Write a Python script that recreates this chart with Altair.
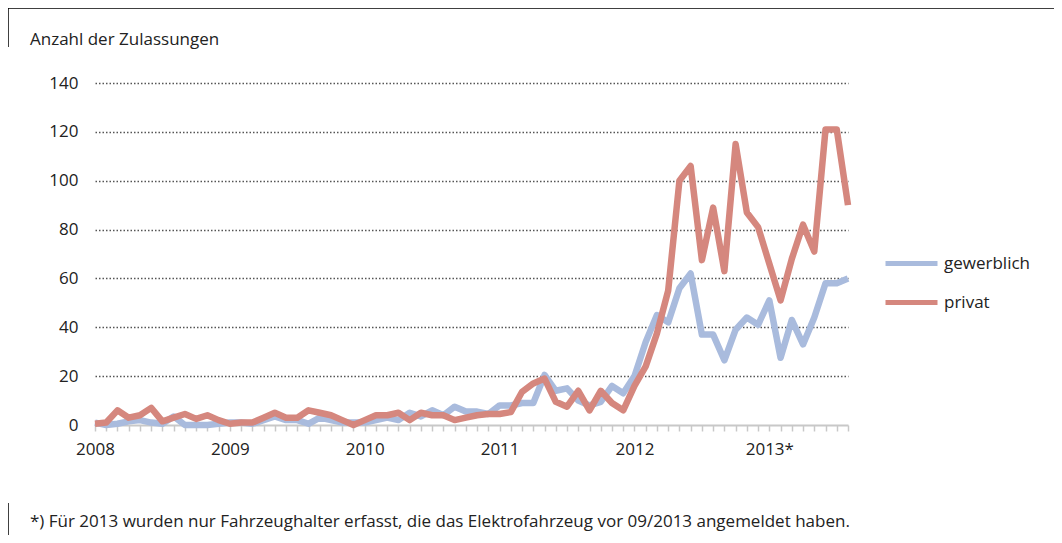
import altair as alt
import pandas as pd

# ---- data -------------------------------------------------------------
monate = [f"{y}-{m:02d}" for y in range(2008, 2014) for m in range(1, 13)][:68]

gewerblich = [1, 0, 0.5, 1.5, 2, 1, 0.5, 3.5, 0, 0, 0, 0.5,
              1, 1, 0.5, 2, 3.5, 2, 2, 0.5, 3, 2, 1, 1,
              1, 2, 3, 2, 5, 3.5, 6, 4, 7.5, 5.5, 5.5, 4.5,
              8, 8, 9, 9, 20.5, 14, 15, 10, 8, 9.5, 16, 13,
              20, 34, 45, 42, 56, 62, 37, 37, 26.5, 39, 44, 41,
              51, 27.5, 43, 33, 44, 58, 58, 60]

privat = [0.5, 1, 6, 3, 4, 7, 1.5, 3, 4.5, 2.5, 4, 2,
          0.5, 1, 1, 3, 5, 3, 3, 6, 5, 4, 2, 0,
          2, 4, 4, 5, 2, 5, 4, 4, 2, 3, 4, 4.5,
          4.5, 5.3, 13.6, 17, 19, 9.5, 7.5, 14, 6, 14, 9, 6,
          16, 24, 37.5, 55, 100, 106, 67.5, 89, 63, 115, 87, 81,
          66, 51, 68, 82, 71, 121, 121, 90]

serien = ["gewerblich", "privat"]
farben = ["#A9BBDD", "#D5877E"]
y_werte = [0, 20, 40, 60, 80, 100, 120, 140]
jahr_labels = ["2008", "2009", "2010", "2011", "2012", "2013*"]
titel = "Anzahl der Zulassungen"
fussnote = "*) Für 2013 wurden nur Fahrzeughalter erfasst, die das Elektrofahrzeug vor 09/2013 angemeldet haben."

rows = []
for i, m in enumerate(monate):
    rows.append({"idx": i, "monat": m, "serie": serien[0], "wert": gewerblich[i]})
    rows.append({"idx": i, "monat": m, "serie": serien[1], "wert": privat[i]})
df = pd.DataFrame(rows)

FONT = "Open Sans"
FS = 17
TXT = "#222222"

label_array = "[" + ",".join(f"'{s}'" for s in jahr_labels) + "]"
label_expr = f"datum.value % 12 == 0 ? {label_array}[datum.value / 12] : ''"

lines = alt.Chart(df).mark_line(strokeWidth=6.5, strokeJoin="round").encode(
    x=alt.X("idx:Q",
            scale=alt.Scale(domain=[0, len(monate) - 1], nice=False, zero=False),
            axis=alt.Axis(values=list(range(len(monate))), labelExpr=label_expr,
                          title=None, grid=False, domainColor="#C8C8C8", domainWidth=2,
                          tickColor="#C8C8C8", tickWidth=1.5, tickSize=6,
                          labelFontSize=FS, labelFont=FONT, labelColor=TXT,
                          labelPadding=10, labelFlush=False, labelOverlap=False)),
    y=alt.Y("wert:Q",
            scale=alt.Scale(domain=[0, 140], nice=False),
            axis=alt.Axis(values=y_werte, title=None, domain=False, ticks=False,
                          grid=True,
                          gridColor=alt.condition("datum.value == 0", alt.value("transparent"), alt.value("#555555")),
                          gridDash=[1.5, 2], gridWidth=1.5,
                          labelFontSize=FS, labelFont=FONT, labelColor=TXT,
                          labelPadding=17)),
    color=alt.Color("serie:N",
                    scale=alt.Scale(domain=serien, range=farben),
                    legend=alt.Legend(title=None, orient="none", legendX=788, legendY=152,
                                      symbolType="stroke", symbolStrokeWidth=5,
                                      symbolSize=2704, labelFontSize=FS, labelFont=FONT,
                                      labelColor=TXT, rowPadding=-2, labelOffset=4)),
    order=alt.Order("serie:N"),
    detail="serie:N",
)

text_df = pd.DataFrame({"t": [titel, fussnote], "py": [-43, 439]})
texts = alt.Chart(text_df).mark_text(align="left", baseline="middle", fontSize=FS,
                                     font=FONT, color=TXT).encode(
    text="t:N", x=alt.value(-65), y=alt.Y("py:Q", scale=None))

deco_df = pd.DataFrame({"k": [1]})
top_line = alt.Chart(deco_df).mark_rule(color="#000000", strokeWidth=1.5).encode(
    x=alt.value(-87), x2=alt.value(959), y=alt.value(-75))
left_top = alt.Chart(deco_df).mark_rule(color="#000000", strokeWidth=1.5).encode(
    x=alt.value(-87), y=alt.value(-75), y2=alt.value(-36))
left_bot = alt.Chart(deco_df).mark_rule(color="#000000", strokeWidth=1.5).encode(
    x=alt.value(-87), y=alt.value(420), y2=alt.value(452))

chart = alt.layer(lines, texts, top_line, left_top, left_bot).properties(
    width=753, height=342,
    autosize=alt.AutoSizeParams(type="none"),
    padding={"left": 87, "top": 75, "right": 206, "bottom": 110},
    background="white",
).configure_view(stroke=None)

chart.save("out.html", embed_options={"renderer": "svg", "actions": False})
